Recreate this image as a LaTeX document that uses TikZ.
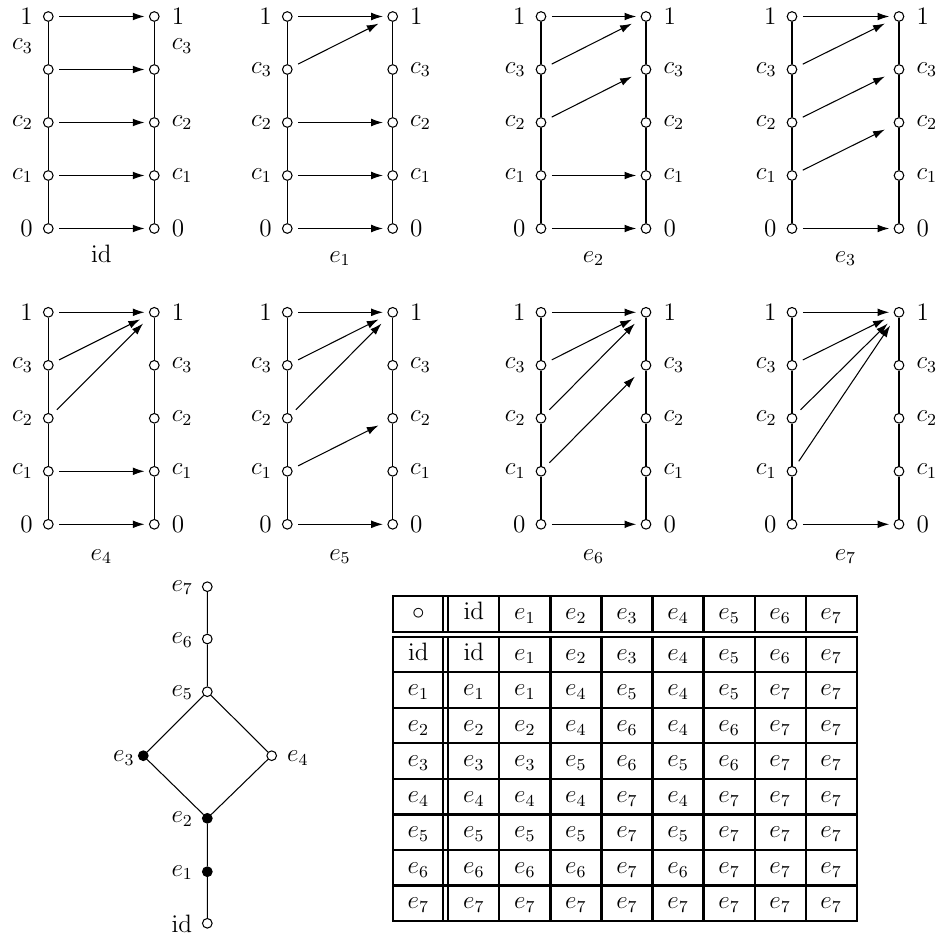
\documentclass[tikz,border=0pt]{standalone}
\usetikzlibrary{arrows.meta}
\newcommand\mychain[5]{%
  \foreach \n [count=\i from 0] in {1,c3,c2,c1,0} {
    \node[vtx] (#1L\n) at (#2,{#4+53*\i}) {};
    \node[vtx] (#1R\n) at (#3,{#4+53*\i}) {};
  }
  \draw (#1L1) -- (#1Lc3) -- (#1Lc2) -- (#1Lc1) -- (#1L0);
  \draw (#1R1) -- (#1Rc3) -- (#1Rc2) -- (#1Rc1) -- (#1R0);
  \foreach \a/\b/\s in {#5} \draw[arr\s] (#1L\a) -- (#1R\b);
}
\newcommand\mylabels[5]{%
  \foreach \t [count=\i from 0] in {1,c_3,c_2,c_1,0} {
    \pgfmathsetmacro\yy{#4+53*\i+(\i==1 ? #5 : 0)}
    \node[lbl,anchor=east] (#1ll\i) at (#2-15,\yy) {$\t$};
    \node[lbl,anchor=west] (#1rl\i) at (#3+17,\yy) {$\t$};
  }
}
\begin{document}
\begin{tikzpicture}[x=0.477pt,y=-0.477pt,font=\large,line width=0.5pt,
  vtx/.style={circle,draw,fill=white,inner sep=0pt,minimum size=4.6pt,line width=0.5pt},
  vtxf/.style={vtx,fill=black},
  lbl/.style={inner sep=0pt},
  arrh/.style={-{Latex[length=5.6pt,width=3.7pt]},shorten <=2.6pt,shorten >=2.1pt},
  arrd/.style={-{Latex[length=5.6pt,width=3.7pt]},shorten <=3.2pt,shorten >=5pt},
  captxt/.style={inner sep=0pt,anchor=base},
  cell/.style={inner sep=0pt,anchor=base},
  tab/.style={line width=1.05pt,line cap=rect}]
\useasboundingbox (0,0) rectangle (938,938);

% row 1
\mychain{a}{48.3}{154.3}{16.5}{1/1/h,c3/c3/h,c2/c2/h,c1/c1/h,0/0/h}
\mylabels{a}{48.3}{154.3}{16.5}{-23.5}
\node[captxt] (capa) at (101.3,262) {$\mathrm{id}$};
\mychain{b}{287.3}{392.7}{16.5}{1/1/h,c3/1/d,c2/c2/h,c1/c1/h,0/0/h}
\mylabels{b}{287.3}{392.7}{16.5}{0}
\node[captxt] (capb) at (340,262) {$e_1$};
\mychain{c}{541}{646}{16.5}{1/1/h,c3/1/d,c2/c3/d,c1/c1/h,0/0/h}
\mylabels{c}{541}{646}{16.5}{0}
\node[captxt] (capc) at (593.5,262) {$e_2$};
\mychain{d}{792}{899}{16.5}{1/1/h,c3/1/d,c2/c3/d,c1/c2/d,0/0/h}
\mylabels{d}{792}{899}{16.5}{0}
\node[captxt] (capd) at (845.5,262) {$e_3$};

% row 2
\mychain{e}{48.3}{154.3}{312.3}{1/1/h,c3/1/d,c2/1/d,c1/c1/h,0/0/h}
\mylabels{e}{48.3}{154.3}{312.3}{0}
\node[captxt] (cape) at (101.3,560) {$e_4$};
\mychain{f}{287.3}{392.7}{312.3}{1/1/h,c3/1/d,c2/1/d,c1/c2/d,0/0/h}
\mylabels{f}{287.3}{392.7}{312.3}{0}
\node[captxt] (capf) at (340,560) {$e_5$};
\mychain{g}{541}{646}{312.3}{1/1/h,c3/1/d,c2/1/d,c1/c3/d,0/0/h}
\mylabels{g}{541}{646}{312.3}{0}
\node[captxt] (capg) at (593.5,560) {$e_6$};
\mychain{h}{792}{899}{312.3}{1/1/h,c3/1/d,c2/1/d,c1/1/d,0/0/h}
\mylabels{h}{792}{899}{312.3}{0}
\node[captxt] (caph) at (845.5,560) {$e_7$};

% lattice
\node[vtx] (Le7) at (207.3,586.7) {};
\node[vtx] (Le6) at (207.3,639) {};
\node[vtx] (Le5) at (207.3,691.7) {};
\node[vtxf] (Le3) at (143.3,755.7) {};
\node[vtx] (Le4) at (271.7,755.7) {};
\node[vtxf] (Le2) at (207.3,818.3) {};
\node[vtxf] (Le1) at (207.3,871.7) {};
\node[vtx] (Lid) at (207.3,923.3) {};
\draw (Le7) -- (Le6) -- (Le5) -- (Le3) -- (Le2) -- (Le1) -- (Lid);
\draw (Le5) -- (Le4) -- (Le2);
\foreach \n/\t/\yy in {e7/e_7/587.5,e6/e_6/640,e5/e_5/692.5,e2/e_2/819,e1/e_1/872.5,id/\mathrm{id}/923.3}
  \node[lbl,anchor=west] (Lt\n) at (171,\yy) {$\t$};
\node[lbl,anchor=east] (Lte3) at (135,758) {$e_3$};
\node[lbl,anchor=west] (Lte4) at (286.7,758) {$e_4$};

% table
\foreach \yy in {596,631.7,636.7,921}
  \draw[tab] (393.3,\yy) -- (856.7,\yy);
\foreach \k in {1,...,7}
  \draw[tab] (393.3,{636.7+35.54*\k}) -- (856.7,{636.7+35.54*\k});
\foreach \xx in {393.3,443.3,448.3,499.35,550.4,601.45,652.5,703.55,754.6,805.65,856.7} {
  \draw[tab] (\xx,596) -- (\xx,631.7);
  \draw[tab] (\xx,636.7) -- (\xx,921);
}
\foreach \row [count=\r from 0] in {
  {\circ,\mathrm{id},e_1,e_2,e_3,e_4,e_5,e_6,e_7},
  {\mathrm{id},\mathrm{id},e_1,e_2,e_3,e_4,e_5,e_6,e_7},
  {e_1,e_1,e_1,e_4,e_5,e_4,e_5,e_7,e_7},
  {e_2,e_2,e_2,e_4,e_6,e_4,e_6,e_7,e_7},
  {e_3,e_3,e_3,e_5,e_6,e_5,e_6,e_7,e_7},
  {e_4,e_4,e_4,e_4,e_7,e_4,e_7,e_7,e_7},
  {e_5,e_5,e_5,e_5,e_7,e_5,e_7,e_7,e_7},
  {e_6,e_6,e_6,e_6,e_7,e_6,e_7,e_7,e_7},
  {e_7,e_7,e_7,e_7,e_7,e_7,e_7,e_7,e_7}} {
  \foreach \cell [count=\c from 0] in \row {
    \pgfmathsetmacro\cx{\c==0 ? 418.3 : 448.3+51.05*(\c-0.5)}
    \pgfmathsetmacro\cy{\r==0 ? 619.5 : 636.7+35.54*(\r-1)+23.5}
    \node[cell] (t\r-\c) at (\cx,\cy) {$\cell$};
  }
}
\end{tikzpicture}
\end{document}
